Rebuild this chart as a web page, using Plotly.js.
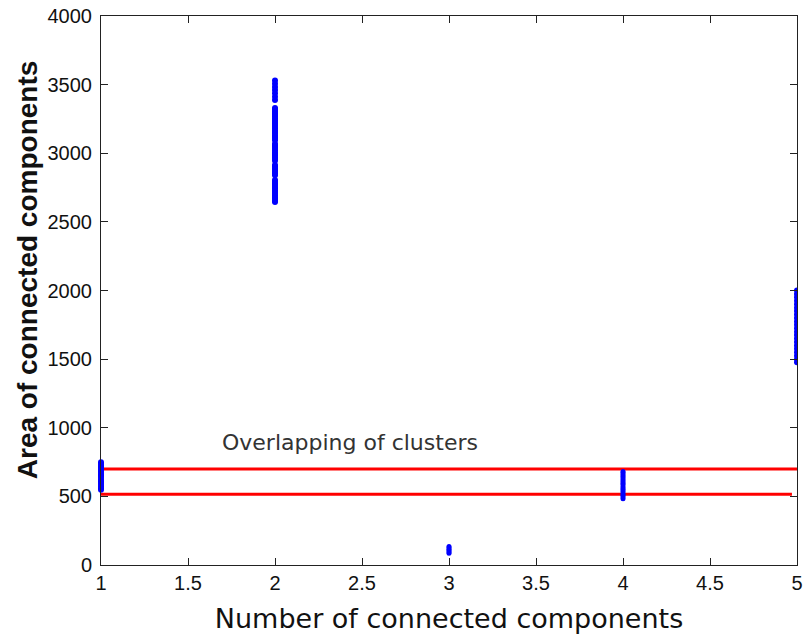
<!DOCTYPE html>
<html>
<head>
<meta charset="utf-8">
<script src="https://cdn.plot.ly/plotly-3.0.1.min.js"></script>
<style>html,body{margin:0;padding:0;background:#fff;}#chart{width:803px;height:636px;}</style>
</head>
<body>
<div id="chart"></div>
<script>
// Areas of connected components, grouped by number of connected components
const area1 = [548, 560, 572, 585, 597, 610, 622, 635, 648, 660, 672, 685, 698, 710, 722, 735, 748];
const area2 = [3530, 3507, 3483, 3460, 3437, 3412, 3388,
  3330, 3318, 3305, 3292, 3280, 3268, 3255, 3243, 3230, 3218, 3205, 3193, 3180, 3168, 3155, 3143, 3130, 3118, 3105, 3095,
  3070, 3058, 3045, 3033, 3020, 3008, 2995, 2983, 2970, 2958, 2945,
  2915, 2903, 2890, 2878, 2865, 2853, 2840,
  2805, 2793, 2780, 2768, 2755, 2743, 2730, 2718, 2705, 2693, 2680, 2668, 2655, 2645];
const area3 = [85, 95, 105, 115, 125, 135];
const area4 = [482, 495, 508, 520, 533, 546, 558, 571, 584, 596, 609, 622, 634, 647, 660, 672, 682];
const area5 = [1478, 1500, 1525, 1550, 1575, 1600, 1625, 1650, 1675, 1700, 1725, 1750, 1775, 1800, 1825, 1850, 1875, 1900, 1925, 1950, 1975, 2000];
const upperLineX = [0.977, 5];
const upperLineY = [700, 700];
const lowerLineX = [0.977, 4.971];
const lowerLineY = [515, 515];
const xTicks = [1, 1.5, 2, 2.5, 3, 3.5, 4, 4.5, 5];
const xTickText = ['1', '1.5', '2', '2.5', '3', '3.5', '4', '4.5', '5'];
const yTicks = [0, 500, 1000, 1500, 2000, 2500, 3000, 3500, 4000];
const annotationText = 'Overlapping of clusters';
const yTitleText = 'Area of connected components';
const xTitleText = 'Number of connected components';

const groups = [[1, area1, 6], [2, area2, 6], [3, area3, 5], [4, area4, 5], [5, area5, 6]];
const traces = [];
traces.push({x: upperLineX, y: upperLineY, mode: 'lines', line: {color: '#ff0000', width: 3}, cliponaxis: false, hoverinfo: 'skip'});
traces.push({x: lowerLineX, y: lowerLineY, mode: 'lines', line: {color: '#ff0000', width: 3}, cliponaxis: false, hoverinfo: 'skip'});
groups.forEach(([n, vals, sz]) => {
  traces.push({x: vals.map(() => n), y: vals, mode: 'markers', marker: {color: '#0000ff', size: sz}, cliponaxis: n !== 5 ? false : true});
});

const axisCommon = {
  showline: true, linecolor: '#222', linewidth: 1, mirror: 'ticks',
  ticks: 'inside', ticklen: 7, tickcolor: '#222', showgrid: false, zeroline: false,
  tickfont: {family: 'Liberation Sans, Arial, sans-serif', size: 20, color: '#111'}
};
const layout = {
  width: 803, height: 636,
  margin: {l: 101, r: 6, t: 16, b: 71},
  paper_bgcolor: '#fff', plot_bgcolor: '#fff',
  showlegend: false,
  xaxis: Object.assign({}, axisCommon, {
    range: [1, 5], tickvals: xTicks, ticktext: xTickText,
    title: {text: xTitleText, font: {family: 'DejaVu Sans, sans-serif', size: 27, color: '#111'}, standoff: 16}
  }),
  yaxis: Object.assign({}, axisCommon, {
    range: [0, 4000], tickvals: yTicks, ticklabelstandoff: 4
  }),
  annotations: [{
    x: 1.685, y: 890, xref: 'x', yref: 'y', xanchor: 'left', yanchor: 'middle', showarrow: false,
    text: annotationText, font: {family: 'DejaVu Sans, sans-serif', size: 22, color: '#333'}
  }, {
    x: -0.1063, y: 0.537, xref: 'paper', yref: 'paper', xanchor: 'center', yanchor: 'middle', showarrow: false,
    textangle: -90, text: yTitleText,
    font: {family: 'Liberation Sans, Arial, sans-serif', size: 28, color: '#111', weight: 'bold'}
  }]
};
Plotly.newPlot('chart', traces, layout, {staticPlot: true, displayModeBar: false});
</script>
</body>
</html>
